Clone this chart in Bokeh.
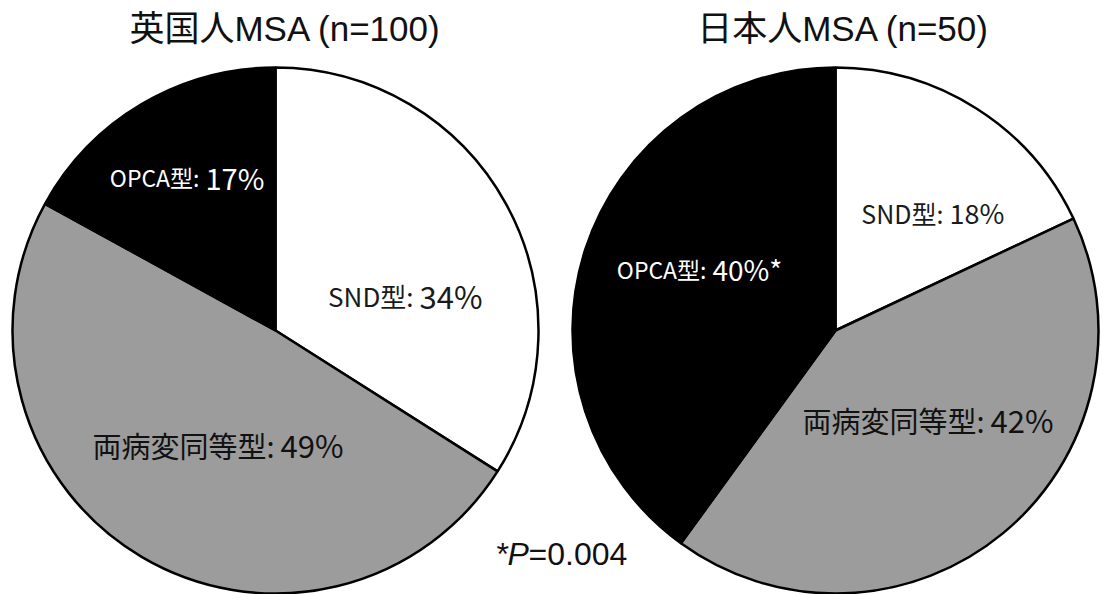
from bokeh.plotting import figure
from bokeh.models import Range1d, ColumnDataSource
from bokeh.core.properties import value
from bokeh.embed import file_html
from bokeh.resources import INLINE
import math

# ---- data ----
categories = ["SND型", "両病変同等型", "OPCA型"]
uk_values = [34, 49, 17]
jp_values = [18, 42, 40]
jp_marks = ["", "", "*"]
uk_title = "英国人MSA (n=100)"
jp_title = "日本人MSA (n=50)"
p_value_label = "=0.004"
slice_colors = ["#ffffff", "#9c9c9c", "#000000"]
label_colors = ["#1a1a1a", "#111111", "#ffffff"]

W, H = 1103, 594
p = figure(width=W, height=H, x_range=Range1d(0, W), y_range=Range1d(0, H),
           x_axis_type=None, y_axis_type=None, toolbar_location=None,
           output_backend="svg", min_border=0, min_border_left=0,
           min_border_right=0, min_border_top=0, min_border_bottom=0)
p.outline_line_color = None
p.grid.visible = False
p.background_fill_color = "white"
p.border_fill_color = "white"

R = 263
centers = [(275, H - 330), (835, H - 330)]

def add_pie(vals, cx, cy):
    total = float(sum(vals))
    starts, ends = [], []
    cum = 0.0
    for v in vals:
        starts.append(math.pi / 2 - 2 * math.pi * cum / total)
        cum += v
        ends.append(math.pi / 2 - 2 * math.pi * cum / total)
    src = ColumnDataSource(dict(x=[cx] * len(vals), y=[cy] * len(vals),
                                s=starts, e=ends, c=slice_colors))
    p.wedge(x="x", y="y", radius=R, start_angle="s", end_angle="e",
            direction="clock", fill_color="c", line_color="#000000",
            line_width=2.5, source=src)

add_pie(uk_values, *centers[0])
add_pie(jp_values, *centers[1])

LF = "Noto Sans CJK JP"
TF = "Liberation Sans, Noto Sans CJK JP"

def label(name, pct, x_split, ypix, color, name_size, pct_size):
    p.text(x=[x_split], y=[H - ypix], text=[name + ":"], text_align="right",
           text_baseline="middle", text_color=color,
           text_font=value(LF), text_font_size=value(f"{name_size}px"))
    p.text(x=[x_split + 6], y=[H - ypix], text=[pct], text_align="left",
           text_baseline="middle", text_color=color,
           text_font=value(LF), text_font_size=value(f"{pct_size}px"))

# UK labels
label(categories[0], f"{uk_values[0]}%", 413, 295, label_colors[0], 26, 31)
label(categories[1], f"{uk_values[1]}%", 274, 444, label_colors[1], 29, 31)
label(categories[2], f"{uk_values[2]}%", 199, 176, label_colors[2], 23, 29)
# JP labels
label(categories[0], f"{jp_values[0]}%{jp_marks[0]}", 943, 212, label_colors[0], 25, 27)
label(categories[1], f"{jp_values[1]}%{jp_marks[1]}", 984, 419, label_colors[1], 29, 31)
label(categories[2], f"{jp_values[2]}%{jp_marks[2]}", 706, 268, label_colors[2], 23, 28)

# titles
p.text(x=[285], y=[H - 28], text=[uk_title], text_align="center",
       text_baseline="middle", text_color="#111111",
       text_font=value(TF), text_font_size=value("35px"))
p.text(x=[843], y=[H - 28], text=[jp_title], text_align="center",
       text_baseline="middle", text_color="#111111",
       text_font=value(TF), text_font_size=value("35px"))

# p-value note
p.text(x=[496], y=[H - 553], text=["*"], text_align="left", text_baseline="middle",
       text_color="#111111", text_font=value("Liberation Sans"), text_font_size=value("32px"))
p.text(x=[507], y=[H - 553], text=["P"], text_align="left", text_baseline="middle",
       text_color="#111111", text_font=value("Liberation Sans"), text_font_style="italic",
       text_font_size=value("32px"))
p.text(x=[528], y=[H - 553], text=[p_value_label], text_align="left", text_baseline="middle",
       text_color="#111111", text_font=value("Liberation Sans"), text_font_size=value("32px"))

open("out.html", "w").write(file_html(p, INLINE))
